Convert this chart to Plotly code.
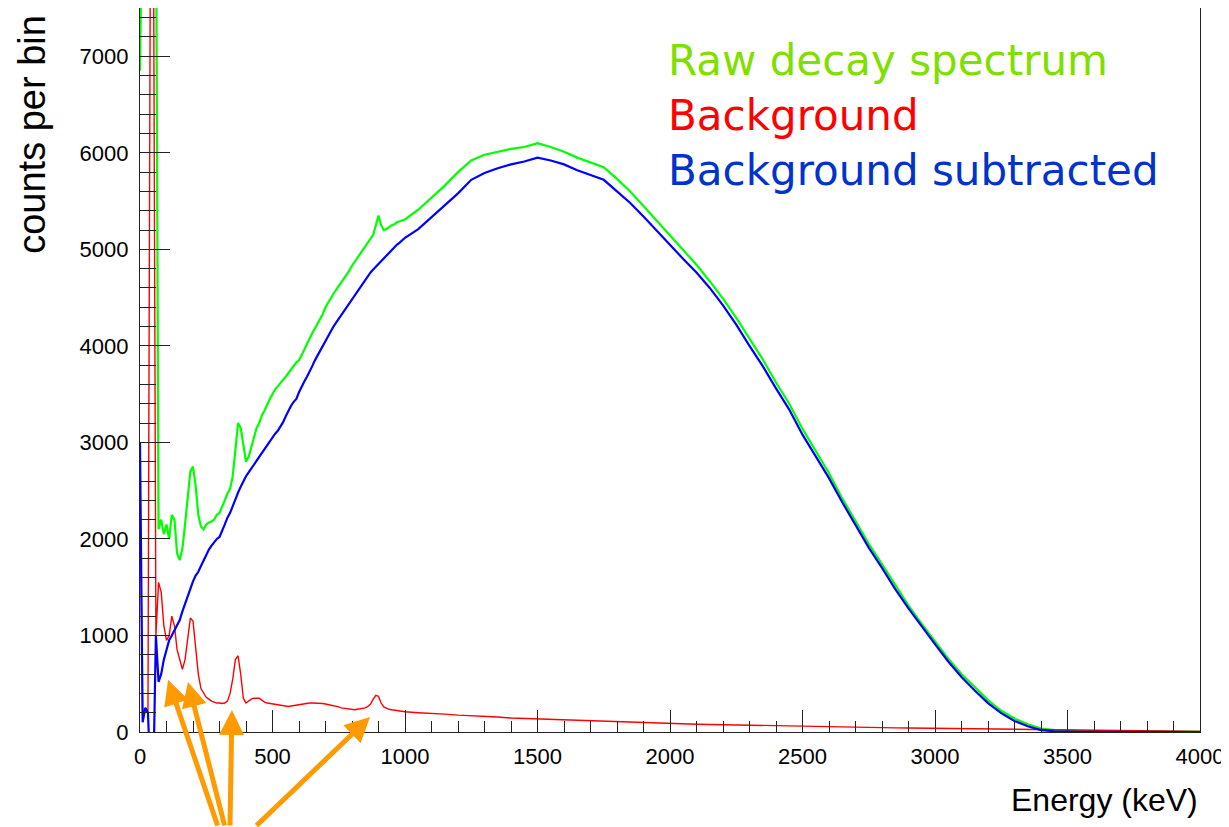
import plotly.graph_objects as go

# Energy grid (keV): 10 keV steps up to 990, then 50 keV steps to 4000
energy = list(range(0, 1000, 10)) + list(range(1000, 4001, 50))

raw_spectrum = [
    6850, 9000, 9000, 9000, 9000, 9000, 9000, 2100, 2200, 2050,
    2150, 2000, 2250, 2200, 1850, 1780, 1900, 2150, 2450, 2700,
    2750, 2550, 2250, 2130, 2100, 2150, 2170, 2180, 2200, 2250,
    2270, 2330, 2400, 2470, 2520, 2650, 2900, 3200, 3150, 2950,
    2800, 2850, 2950, 3050, 3150, 3200, 3280, 3330, 3400, 3450,
    3500, 3550, 3580, 3620, 3650, 3680, 3720, 3760, 3800, 3830,
    3850, 3900, 3960, 4020, 4080, 4130, 4180, 4230, 4270, 4330,
    4400, 4450, 4500, 4540, 4580, 4620, 4650, 4700, 4740, 4780,
    4830, 4870, 4910, 4950, 4990, 5030, 5070, 5110, 5150, 5250,
    5350, 5250, 5200, 5210, 5230, 5250, 5260, 5280, 5290, 5300,
    5310, 5410, 5530, 5660, 5800, 5920, 5980, 6010, 6040, 6060,
    6100, 6060, 6010, 5950, 5900, 5850, 5730, 5600, 5450, 5300,
    5140, 4990, 4840, 4670, 4490, 4290, 4070, 3860, 3620, 3400,
    3140, 2910, 2680, 2420, 2180, 1950, 1740, 1520, 1310, 1120,
    940, 760, 600, 460, 330, 220, 140, 80, 35, 20,
    12, 10, 9, 8, 8, 7, 6, 6, 5, 5, 5,
]

background = [
    2600, 150, 250, 200, 9000, 9000, 1000, 1550, 1450, 1100,
    950, 1000, 1200, 1100, 850, 750, 650, 750, 1000, 1180,
    1150, 900, 600, 450, 400, 360, 340, 320, 310, 300,
    300, 295, 300, 320, 400, 550, 750, 790, 600, 350,
    300, 320, 340, 350, 350, 350, 330, 310, 300, 295,
    290, 285, 280, 275, 270, 265, 265, 270, 275, 280,
    280, 285, 290, 295, 300, 300, 300, 300, 300, 295,
    290, 285, 280, 270, 265, 260, 250, 245, 240, 235,
    230, 230, 235, 240, 245, 250, 265, 290, 340, 380,
    370, 300, 260, 245, 235, 230, 225, 220, 215, 212,
    210, 200, 195, 185, 175, 170, 160, 155, 145, 140,
    135, 130, 125, 120, 115, 110, 105, 100, 95, 90,
    88, 85, 80, 78, 75, 72, 70, 68, 65, 62,
    60, 57, 55, 52, 50, 48, 45, 43, 42, 40,
    38, 36, 34, 32, 30, 28, 26, 24, 22, 20,
    18, 16, 14, 12, 11, 10, 9, 8, 7, 6, 5,
]

subtracted = [
    3000, 100, 250, 200, -500, -500, 1000, 520, 600, 750,
    850, 950, 1000, 1050, 1100, 1160, 1250, 1330, 1420, 1500,
    1560, 1620, 1660, 1720, 1780, 1840, 1890, 1930, 1970, 2000,
    2020, 2080, 2150, 2220, 2270, 2340, 2420, 2480, 2540, 2600,
    2650, 2690, 2730, 2780, 2820, 2860, 2890, 2940, 2980, 3020,
    3050, 3090, 3120, 3160, 3210, 3270, 3330, 3380, 3420, 3450,
    3520, 3580, 3630, 3680, 3730, 3790, 3850, 3900, 3960, 4010,
    4060, 4110, 4150, 4200, 4240, 4280, 4330, 4370, 4410, 4450,
    4490, 4530, 4570, 4610, 4650, 4690, 4730, 4760, 4790, 4820,
    4850, 4880, 4910, 4940, 4970, 5000, 5020, 5050, 5070, 5100,
    5120, 5210, 5330, 5450, 5580, 5720, 5790, 5840, 5880, 5910,
    5950, 5920, 5880, 5820, 5770, 5720, 5600, 5480, 5340, 5190,
    5040, 4900, 4760, 4600, 4420, 4220, 4000, 3790, 3560, 3340,
    3080, 2860, 2630, 2380, 2140, 1910, 1700, 1480, 1280, 1090,
    910, 730, 570, 430, 300, 195, 115, 60, 20, 8,
    3, 2, 1, 1, 0, 0, 0, 0, 0, 0, 0,
]

x_ticks = [0, 500, 1000, 1500, 2000, 2500, 3000, 3500, 4000]
y_ticks = [0, 1000, 2000, 3000, 4000, 5000, 6000, 7000]

legend_labels = ["Raw decay spectrum", "Background", "Background subtracted"]
legend_colors = ["#7FE000", "#FF0000", "#0033CC"]

# Annotated peaks (arrow tips) in keV / counts
arrow_E = [106, 181, 347, 868]
arrow_C = [540, 519, 228, 156]
arrow_dx = [50, 37, -2, -115]
arrow_dy = [162, 160, 130, 130]

fig = go.Figure()
fig.add_trace(go.Scatter(x=energy, y=raw_spectrum, mode="lines",
                         line=dict(color="#00FF00", width=2.2)))
fig.add_trace(go.Scatter(x=energy, y=background, mode="lines",
                         line=dict(color="#FF0000", width=1.4)))
fig.add_trace(go.Scatter(x=energy, y=subtracted, mode="lines",
                         line=dict(color="#0000FF", width=2.2)))

axis_font = dict(family="Liberation Sans, Arial, sans-serif", size=22, color="black")

fig.update_xaxes(range=[0, 4000], tickvals=x_ticks, ticktext=[str(v) for v in x_ticks],
                 ticks="inside", ticklen=22, tickwidth=1, tickcolor="#222",
                 minor=dict(ticks="inside", ticklen=11, dtick=100, tickcolor="#222", tickwidth=1),
                 showline=True, linecolor="#222", linewidth=1.2, mirror=True,
                 showgrid=False, zeroline=False, tickfont=axis_font, ticklabelstandoff=4)
fig.update_yaxes(range=[0, 7500], tickvals=y_ticks, ticktext=[str(v) for v in y_ticks],
                 ticks="inside", ticklen=30, tickwidth=1, tickcolor="#222",
                 minor=dict(ticks="inside", ticklen=16, dtick=200, tickcolor="#222", tickwidth=1),
                 showline=True, linecolor="#222", linewidth=1.2, mirror=True,
                 showgrid=False, zeroline=False, tickfont=axis_font, ticklabelstandoff=6)

annotations = []
for i, (lab, col) in enumerate(zip(legend_labels, legend_colors)):
    annotations.append(dict(text=lab, xref="paper", yref="paper", x=0.496, y=0.928 - i * 0.076,
                            xanchor="left", yanchor="middle", showarrow=False,
                            font=dict(family="DejaVu Sans", size=42, color=col)))
annotations.append(dict(text="Energy (keV)", xref="paper", yref="paper", x=1.0, y=0,
                        xanchor="right", yanchor="top", yshift=-48, showarrow=False,
                        font=dict(family="Liberation Sans, Arial, sans-serif", size=32, color="black")))
annotations.append(dict(text="counts per bin", xref="paper", yref="paper", x=-0.1019, y=0.994,
                        xanchor="center", yanchor="top", textangle=-90, showarrow=False,
                        font=dict(family="Liberation Sans, Arial, sans-serif", size=38, color="black")))
for e, c, dx, dy in zip(arrow_E, arrow_C, arrow_dx, arrow_dy):
    annotations.append(dict(x=e, y=c, xref="x", yref="y", ax=dx, ay=dy, text="",
                            showarrow=True, arrowhead=2, arrowsize=1.0, arrowwidth=5,
                            arrowcolor="#FF9A00", standoff=0))

# page body has an 8px default margin, so the figure is sized/offset to compensate
fig.update_layout(width=1221, height=819, margin=dict(l=132, r=29, t=0, b=95),
                  paper_bgcolor="white", plot_bgcolor="white", showlegend=False,
                  annotations=annotations)

fig.write_html("out.html")
